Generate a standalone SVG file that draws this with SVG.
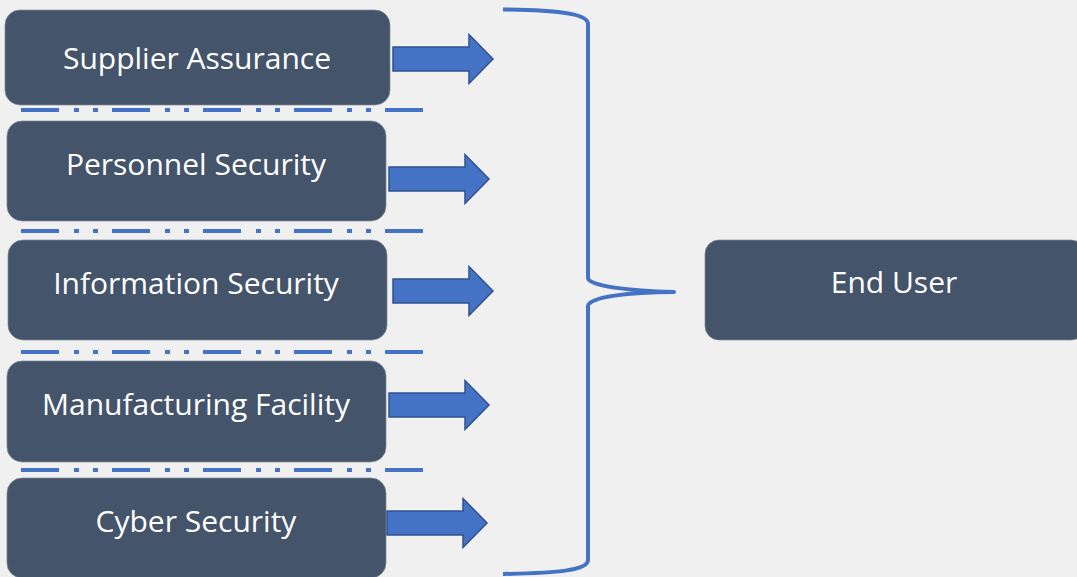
<svg xmlns="http://www.w3.org/2000/svg" width="1077" height="577" viewBox="0 0 1077 577">
  <defs>
    <style>
      .box { fill: #44546A; stroke: #7E8A9B; stroke-width: 0.7; }
      .label { fill: #FFFFFF; font-family: "Open Sans", "Noto Sans", "DejaVu Sans", sans-serif; font-size: 30px; text-anchor: middle; }
      .sep { stroke: #4472C4; stroke-width: 4; fill: none; stroke-dasharray: 38 15 5 14 5 14; }
      .arrow { fill: #4472C4; stroke: #2F528F; stroke-width: 1.5; stroke-linejoin: miter; }
      .brace { fill: none; stroke: #4472C4; stroke-width: 4; stroke-linejoin: round; }
    </style>
    <!-- block arrow shape, origin at shaft start, centred on y=0 -->
    <path id="blockArrow" d="M0,-12 L76,-12 L76,-24.5 L100,0 L76,24.5 L76,12 L0,12 Z"/>
  </defs>

  <rect width="1077" height="577" fill="#F0F0F0"/>

  <!-- separators between the source categories -->
  <g id="separators">
    <line class="sep" x1="21" y1="110" x2="424" y2="110"/>
    <line class="sep" x1="21" y1="231" x2="424" y2="231"/>
    <line class="sep" x1="21" y1="352" x2="424" y2="352"/>
    <line class="sep" x1="21" y1="470" x2="424" y2="470"/>
  </g>

  <g id="node-supplier-assurance">
    <rect class="box" x="5" y="10" width="385" height="95" rx="15"/>
    <text class="label" x="197" y="69">Supplier Assurance</text>
  </g>
  <g id="node-personnel-security">
    <rect class="box" x="7" y="121" width="379" height="100" rx="15"/>
    <text class="label" x="196" y="175">Personnel Security</text>
  </g>
  <g id="node-information-security">
    <rect class="box" x="8" y="240" width="379" height="100" rx="15"/>
    <text class="label" x="196" y="294">Information Security</text>
  </g>
  <g id="node-manufacturing-facility">
    <rect class="box" x="7" y="361" width="379" height="101" rx="15"/>
    <text class="label" x="196" y="415">Manufacturing Facility</text>
  </g>
  <g id="node-cyber-security">
    <rect class="box" x="7" y="478" width="379" height="100" rx="15"/>
    <text class="label" x="196" y="532">Cyber Security</text>
  </g>
  <g id="node-end-user">
    <rect class="box" x="705" y="240" width="380" height="100" rx="14"/>
    <text class="label" x="894" y="293">End User</text>
  </g>

  <g id="connectors">
    <use href="#blockArrow" class="arrow" transform="translate(393,59)"/>
    <use href="#blockArrow" class="arrow" transform="translate(389,179)"/>
    <use href="#blockArrow" class="arrow" transform="translate(393,291)"/>
    <use href="#blockArrow" class="arrow" transform="translate(389,405)"/>
    <use href="#blockArrow" class="arrow" transform="translate(387,523)"/>
    <path class="brace" d="M503,9.5 C560,10 588,14 588,24 L588,278 C588,286 630,291 674,292 C630,292 588,297 588,306 L588,560 C588,570 560,573 503,574"/>
  </g>
</svg>
